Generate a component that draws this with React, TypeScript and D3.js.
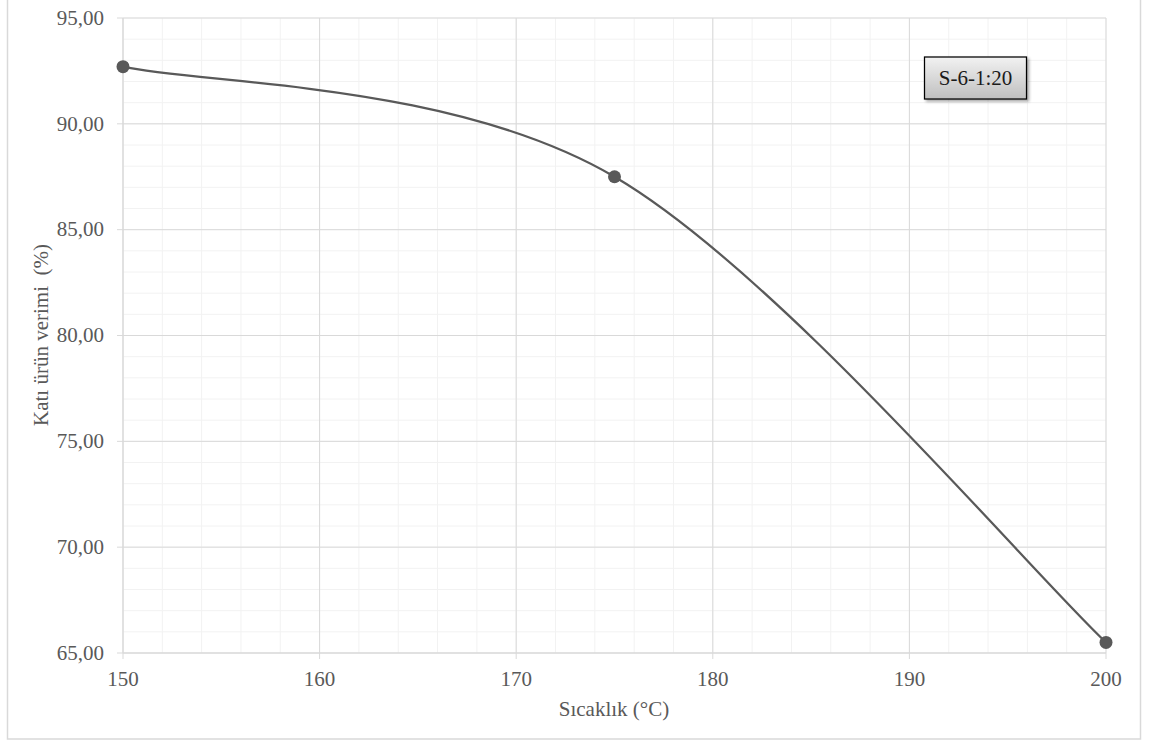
import * as d3 from "d3";
import React from "react";

// Sıcaklık (°C) vs Katı ürün verimi (%)
const temps = [150, 175, 200];
const yields = [92.7, 87.5, 65.5];
const xTicks = [150, 160, 170, 180, 190, 200];
const yTicks = [65, 70, 75, 80, 85, 90, 95];
const legendLabel = "S-6-1:20";

// Excel-style smoothed line: bezier, control points at 1/6 of neighbour chord
function smoothPath(pts: [number, number][]) {
  const p = d3.path();
  const n = pts.length;
  p.moveTo(pts[0][0], pts[0][1]);
  for (let i = 0; i < n - 1; i++) {
    const p0 = pts[Math.max(i - 1, 0)];
    const p1 = pts[i];
    const p2 = pts[i + 1];
    const p3 = pts[Math.min(i + 2, n - 1)];
    const f = 1 / 6;
    p.bezierCurveTo(
      p1[0] + (p2[0] - p0[0]) * f,
      p1[1] + (p2[1] - p0[1]) * f,
      p2[0] - (p3[0] - p1[0]) * f,
      p2[1] - (p3[1] - p1[1]) * f,
      p2[0],
      p2[1]
    );
  }
  return p.toString();
}

export default function App() {
  const WIDTH = 1150;
  const HEIGHT = 742;
  const margin = { top: 18, right: 44, bottom: 89, left: 123 };
  const chartWidth = WIDTH - margin.left - margin.right;
  const chartHeight = HEIGHT - margin.top - margin.bottom;

  const xScale = d3.scaleLinear().domain([150, 200]).range([0, chartWidth]);
  const yScale = d3.scaleLinear().domain([65, 95]).range([chartHeight, 0]);

  const data = temps.map((t, i) => ({ x: t, y: yields[i] }));
  const pixelPts = data.map(d => [xScale(d.x), yScale(d.y)] as [number, number]);

  const xMinor = d3.range(150, 200.01, 2);
  const yMinor = d3.range(65, 95.01, 1);

  const font = "'Liberation Serif', 'Times New Roman', serif";
  const textColor = "#595959";

  return (
    <svg
      width={WIDTH}
      height={HEIGHT}
      style={{ position: "absolute", left: 0, top: 0, fontFamily: font }}
    >
      <defs>
        <linearGradient id="legend-grad" x1={0} x2={0} y1={0} y2={1}>
          <stop offset="0%" stopColor="#f2f2f2" />
          <stop offset="100%" stopColor="#bfbfbf" />
        </linearGradient>
        <filter id="legend-shadow" x="-20%" y="-20%" width="140%" height="150%">
          <feDropShadow dx={2} dy={2} stdDeviation={1.5} floodColor="#000" floodOpacity={0.35} />
        </filter>
      </defs>

      <rect x={0} y={0} width={WIDTH} height={HEIGHT} fill="#fff" />
      {/* outer border */}
      <rect x={7.5} y={-1} width={1133} height={740} fill="none" stroke="#d9d9d9" strokeWidth={1.5} />

      <g transform={`translate(${margin.left},${margin.top})`}>
        {/* minor grid */}
        {xMinor.map((d, i) => (
          <line key={"xm" + i} x1={xScale(d)} x2={xScale(d)} y1={0} y2={chartHeight} stroke="#f2f2f2" />
        ))}
        {yMinor.map((d, i) => (
          <line key={"ym" + i} x1={0} x2={chartWidth} y1={yScale(d)} y2={yScale(d)} stroke="#f2f2f2" />
        ))}
        {/* major grid */}
        {xTicks.map((d, i) => (
          <line key={"xg" + i} x1={xScale(d)} x2={xScale(d)} y1={0} y2={chartHeight} stroke="#d9d9d9" />
        ))}
        {yTicks.map((d, i) => (
          <line key={"yg" + i} x1={0} x2={chartWidth} y1={yScale(d)} y2={yScale(d)} stroke="#d9d9d9" />
        ))}

        {/* y axis */}
        <line x1={0} x2={0} y1={0} y2={chartHeight} stroke="#d9d9d9" />
        {yTicks.map((d, i) => (
          <g key={"yt" + i} transform={`translate(0,${yScale(d)})`}>
            <line x1={-6} x2={0} y1={0} y2={0} stroke="#d9d9d9" />
            <text x={-19} y={0} dy="0.32em" fontSize={21} textAnchor="end" fill={textColor}>
              {d.toFixed(2).replace(".", ",")}
            </text>
          </g>
        ))}

        {/* x axis */}
        <line x1={0} x2={chartWidth} y1={chartHeight} y2={chartHeight} stroke="#d9d9d9" />
        {xTicks.map((d, i) => (
          <g key={"xt" + i} transform={`translate(${xScale(d)},${chartHeight})`}>
            <line x1={0} x2={0} y1={0} y2={6} stroke="#d9d9d9" />
            <text x={0} y={33} fontSize={21} textAnchor="middle" fill={textColor}>
              {d}
            </text>
          </g>
        ))}

        {/* series */}
        <path d={smoothPath(pixelPts)} fill="none" stroke="#595959" strokeWidth={2.25} />
        {data.map((d, i) => (
          <circle key={"p" + i} cx={xScale(d.x)} cy={yScale(d.y)} r={6.5} fill="#595959" />
        ))}
      </g>

      {/* axis titles */}
      <text x={614} y={716} fontSize={21} textAnchor="middle" fill={textColor}>
        {"Sıcaklık (°C)"}
      </text>
      <text
        transform="translate(48,335) rotate(-90)"
        fontSize={21}
        textAnchor="middle"
        fill={textColor}
        style={{ whiteSpace: "pre" }}
      >
        {"Katı ürün verimi  (%)"}
      </text>

      {/* legend label box */}
      <g filter="url(#legend-shadow)">
        <rect x={924.5} y={57} width={102} height={42} fill="url(#legend-grad)" stroke="#000" strokeWidth={1.25} />
      </g>
      <text x={975.5} y={85} fontSize={21} textAnchor="middle" fill="#1a1a1a">
        {legendLabel}
      </text>
    </svg>
  );
}
